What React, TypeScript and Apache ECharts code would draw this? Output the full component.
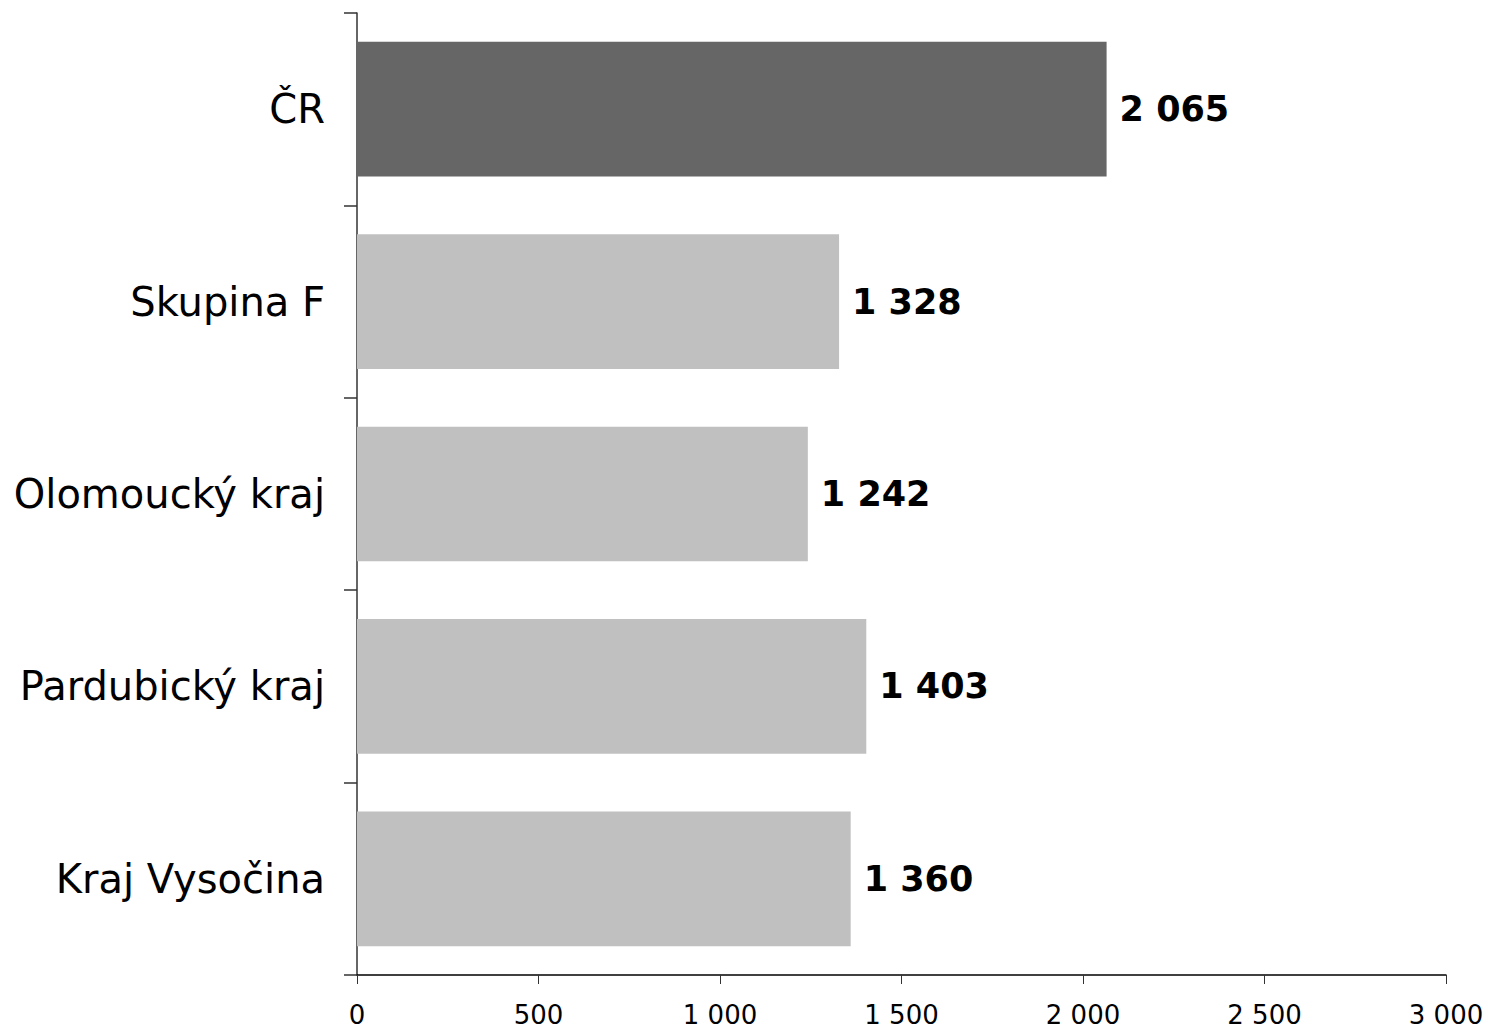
import React, { useEffect, useRef } from "react";
import * as echarts from "echarts";

const categories = ["ČR", "Skupina F", "Olomoucký kraj", "Pardubický kraj", "Kraj Vysočina"];
const values = [2065, 1328, 1242, 1403, 1360];
const barColors = ["#666666", "#c0c0c0", "#c0c0c0", "#c0c0c0", "#c0c0c0"];
const xTicks = [0, 500, 1000, 1500, 2000, 2500, 3000];

const fmt = (v: number) => String(v).replace(/\B(?=(\d{3})+(?!\d))/g, " ");

export default function App() {
  const ref = useRef<HTMLDivElement>(null);
  useEffect(() => {
    if (!ref.current) return;
    const chart = echarts.init(ref.current, undefined, { renderer: "svg" });
    chart.setOption({
      animation: false,
      backgroundColor: "#ffffff",
      textStyle: { fontFamily: "DejaVu Sans" },
      grid: { left: 357, right: 42, top: 13, bottom: 54, containLabel: false },
      xAxis: {
        type: "value",
        min: xTicks[0],
        max: xTicks[xTicks.length - 1],
        interval: 500,
        axisLine: { show: true, lineStyle: { color: "#000", width: 1.5 } },
        axisTick: { show: true, length: 9, lineStyle: { color: "#333", width: 1 } },
        splitLine: { show: false },
        axisLabel: { fontSize: 26, color: "#000", margin: 27, formatter: (v: number) => fmt(v) },
      },
      yAxis: {
        type: "category",
        data: categories,
        inverse: true,
        axisLine: { show: true, lineStyle: { color: "#333", width: 1.5 } },
        axisTick: { show: true, length: 13, inside: false, lineStyle: { color: "#333", width: 1.5 } },
        axisLabel: { fontSize: 40, color: "#000", margin: 32 },
      },
      series: [
        {
          type: "bar",
          data: values.map((v, i) => ({ value: v, itemStyle: { color: barColors[i] } })),
          barCategoryGap: "30%",
          label: {
            show: true,
            position: "right",
            distance: 13,
            fontSize: 35,
            fontWeight: "bold",
            color: "#000",
            formatter: (p: any) => fmt(p.value),
          },
        },
      ],
    });
    return () => chart.dispose();
  }, []);
  return (
    <div
      ref={ref}
      style={{ position: "absolute", left: 0, top: 0, width: 1488, height: 1029 }}
    />
  );
}
